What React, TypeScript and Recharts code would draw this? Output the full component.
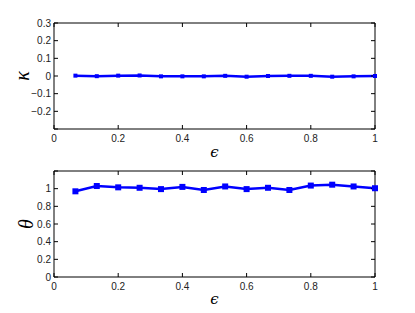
import React from 'react';
import { LineChart, Line, XAxis, YAxis } from 'recharts';

const epsilon = [0.0667, 0.1333, 0.2, 0.2667, 0.3333, 0.4, 0.4667, 0.5333, 0.6, 0.6667, 0.7333, 0.8, 0.8667, 0.9333, 1];
const kappa = [0.002, -0.001, 0.002, 0.003, -0.002, -0.002, -0.002, 0.001, -0.004, 0.0, 0.001, 0.001, -0.004, -0.002, 0.0];
const theta = [0.97, 1.03, 1.015, 1.01, 0.995, 1.02, 0.985, 1.025, 0.995, 1.01, 0.985, 1.035, 1.045, 1.025, 1.005];

const xTicks = [0, 0.2, 0.4, 0.6, 0.8, 1];
const kappaTicks = [-0.3, -0.2, -0.1, 0, 0.1, 0.2, 0.3];
const thetaTicks = [0, 0.2, 0.4, 0.6, 0.8, 1, 1.2];

const kappaData = epsilon.map((e, i) => ({ e, v: kappa[i] }));
const thetaData = epsilon.map((e, i) => ({ e, v: theta[i] }));

const tickFont = { fontSize: 10, fontFamily: 'Liberation Sans, Arial, sans-serif', fill: '#222' };
const fmt = (v: number) => (Math.abs(v) < 1e-9 ? '0' : String(Number(v.toFixed(2))).replace('-', '−'));

const Square = (size: number) => (props: any) => {
  const { cx, cy, index } = props;
  if (cx == null || cy == null) return <g key={index} />;
  return <rect key={index} x={cx - size / 2} y={cy - size / 2} width={size} height={size} fill="#0000ff" />;
};

const YLab = (text: string, dx: number) => (props: any) => {
  const vb = props.viewBox || { x: 0, y: 0, width: 0, height: 0 };
  const cx = dx;
  const cy = vb.y + vb.height / 2;
  return (
    <text x={cx} y={cy} transform={`rotate(-90 ${cx} ${cy})`} textAnchor="middle" dominantBaseline="central"
      style={{ fontSize: 20, fontStyle: 'italic', fontFamily: 'Liberation Serif, DejaVu Serif, serif', fill: '#000' }}>{text}</text>
  );
};

const XLab = (dy: number) => (props: any) => {
  const vb = props.viewBox || { x: 0, y: 0, width: 0, height: 0 };
  const cx = vb.x + vb.width / 2;
  return (
    <text x={cx} y={vb.y + dy} textAnchor="middle" dominantBaseline="central"
      style={{ fontSize: 15, fontStyle: 'italic', fontFamily: 'DejaVu Serif, Liberation Serif, serif', fill: '#000' }}>ϵ</text>
  );
};

const axisStroke = '#000';
const Empty = () => <g />;

function Panel(props: { data: any[]; domain: [number, number]; ticks: number[]; labelTicks: number[]; height: number; top: number; xh: number; ylabel: string; ylabX: number; xlabDy: number; dot: number }) {
  const { data, domain, ticks, labelTicks, height, top, xh, ylabel, ylabX, xlabDy, dot } = props;
  return (
    <LineChart width={415} height={height} data={data} margin={{ top, right: 39, bottom: 0, left: 0 }}>
      <XAxis xAxisId="b" dataKey="e" type="number" domain={[0, 1]} ticks={xTicks} tickFormatter={fmt}
        orientation="bottom" height={xh} tickSize={-4} tickMargin={10} tick={tickFont}
        stroke={axisStroke} axisLine={{ stroke: axisStroke }} tickLine={{ stroke: axisStroke }} interval={0}
        label={XLab(xlabDy)} />
      <XAxis xAxisId="t" dataKey="e" type="number" domain={[0, 1]} ticks={xTicks} orientation="top" height={1}
        tickSize={-4} tick={Empty} interval={0} axisLine={{ stroke: axisStroke }} tickLine={{ stroke: axisStroke }} />
      <YAxis yAxisId="l" type="number" domain={domain} ticks={ticks} allowDataOverflow width={54}
        tickSize={-4} tickMargin={7} tick={(p: any) => {
          const v = p.payload.value;
          if (!labelTicks.some(t => Math.abs(t - v) < 1e-9)) return <g />;
          return <text x={p.x} y={p.y} textAnchor="end" dominantBaseline="central" style={tickFont}>{fmt(v)}</text>;
        }}
        axisLine={{ stroke: axisStroke }} tickLine={{ stroke: axisStroke }} interval={0}
        label={YLab(ylabel, ylabX)} />
      <YAxis yAxisId="r" orientation="right" type="number" domain={domain} ticks={ticks} allowDataOverflow width={1}
        tickSize={-4} tick={Empty} interval={0} axisLine={{ stroke: axisStroke }} tickLine={{ stroke: axisStroke }} />
      <Line xAxisId="b" yAxisId="l" dataKey="v" type="linear" stroke="#0000ff" strokeWidth={2.5}
        dot={Square(dot)} activeDot={false} isAnimationActive={false} />
    </LineChart>
  );
}

export default function App() {
  return (
    <div style={{ position: 'absolute', left: 0, top: 0, width: 415, height: 313, background: '#fff' }}>
      <div style={{ position: 'absolute', left: 0, top: 0 }}>
        <Panel data={kappaData} domain={[-0.3, 0.3]} ticks={kappaTicks} labelTicks={[-0.2, -0.1, 0, 0.1, 0.2, 0.3]}
          height={160} top={22} xh={31} ylabel="κ" ylabX={22} xlabDy={23} dot={4} />
      </div>
      <div style={{ position: 'absolute', left: 0, top: 160 }}>
        <Panel data={thetaData} domain={[0, 1.2]} ticks={thetaTicks} labelTicks={[0, 0.2, 0.4, 0.6, 0.8, 1]}
          height={153} top={10} xh={36} ylabel="θ" ylabX={26} xlabDy={22} dot={6} />
      </div>
    </div>
  );
}
